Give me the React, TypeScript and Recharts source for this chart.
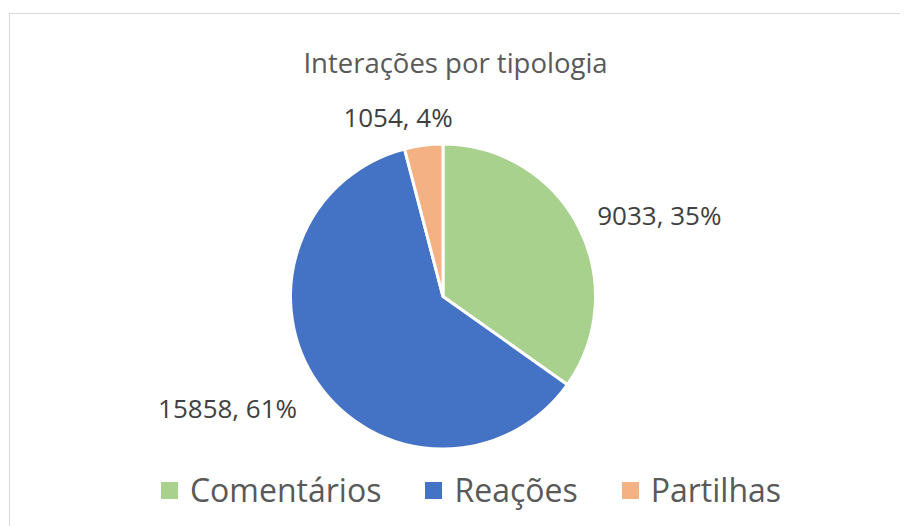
import React from "react";
import { PieChart, Pie, Cell, Legend } from "recharts";

const categories = ["Comentários", "Reações", "Partilhas"];
const interactions = [9033, 15858, 1054];
const sliceColors = ["#A9D18E", "#4472C4", "#F4B183"];

const chartTitle = "Interações por tipologia";

const data = categories.map((name, i) => ({ name, value: interactions[i] }));

// small nudges so the labels sit where Excel's "best fit" put them
const labelNudge = [
  { dx: 1, dy: -2 },
  { dx: -4, dy: 13 },
  { dx: -23, dy: -8 },
];

const RADIAN = Math.PI / 180;

const renderLabel = (props: any) => {
  const { cx, cy, midAngle, outerRadius, percent, value, index } = props;
  const r = outerRadius + 20;
  const cos = Math.cos(-midAngle * RADIAN);
  const sin = Math.sin(-midAngle * RADIAN);
  const n = labelNudge[index] || { dx: 0, dy: 0 };
  const x = cx + r * cos + n.dx;
  const y = cy + r * sin + n.dy;
  const anchor = cos > 0.3 ? "start" : cos < -0.3 ? "end" : "middle";
  return (
    <text
      x={x}
      y={y}
      textAnchor={anchor}
      dominantBaseline="central"
      fill="#404040"
      fontSize={26}
      fontFamily="'Open Sans', 'Noto Sans', sans-serif"
    >
      {`${value}, ${Math.round(percent * 100)}%`}
    </text>
  );
};

const renderLegend = (props: any) => {
  const items = [...(props.payload || [])].sort(
    (a: any, b: any) => categories.indexOf(a.value) - categories.indexOf(b.value)
  );
  return (
    <div
      style={{
        display: "flex",
        justifyContent: "center",
        alignItems: "center",
        height: 40,
        fontFamily: "'Open Sans', 'Noto Sans', sans-serif",
        fontSize: 32,
        color: "#595959",
      }}
    >
      {items.map((entry: any, i: number) => (
        <div
          key={entry.value}
          style={{
            display: "flex",
            alignItems: "center",
            marginLeft: i === 0 ? 0 : 44,
          }}
        >
          <span
            style={{
              display: "inline-block",
              width: 17,
              height: 17,
              background: entry.color,
              marginRight: 12,
            }}
          />
          <span style={{ lineHeight: "40px" }}>{entry.value}</span>
        </div>
      ))}
    </div>
  );
};

export default function App() {
  return (
    <div
      style={{
        position: "relative",
        width: 900,
        height: 518,
        overflow: "hidden",
        background: "#fff",
      }}
    >
      <div
        style={{
          position: "absolute",
          left: 1,
          top: 5,
          width: 1000,
          height: 1000,
          border: "1px solid #d9d9d9",
        }}
      />
      <svg
        width={900}
        height={100}
        style={{ position: "absolute", left: 0, top: 0 }}
      >
        <text
          x={447.5}
          y={65}
          textAnchor="middle"
          fill="#595959"
          fontSize={27.5}
          fontFamily="'Open Sans', 'Noto Sans', sans-serif"
        >
          {chartTitle}
        </text>
      </svg>
      <div style={{ position: "absolute", left: 0, top: 0 }}>
        <PieChart
          width={900}
          height={518}
          margin={{ top: 0, right: 0, bottom: 0, left: 0 }}
        >
          <Pie
            data={data}
            dataKey="value"
            nameKey="name"
            cx={435}
            cy={288.5}
            outerRadius={152.5}
            startAngle={90}
            endAngle={-270}
            stroke="#ffffff"
            strokeWidth={3}
            label={renderLabel}
            labelLine={false}
            isAnimationActive={false}
          >
            {data.map((d, i) => (
              <Cell key={d.name} fill={sliceColors[i]} />
            ))}
          </Pie>
          <Legend
            content={renderLegend}
            wrapperStyle={{ position: "absolute", top: 462, left: 13, width: 900 }}
          />
        </PieChart>
      </div>
    </div>
  );
}
